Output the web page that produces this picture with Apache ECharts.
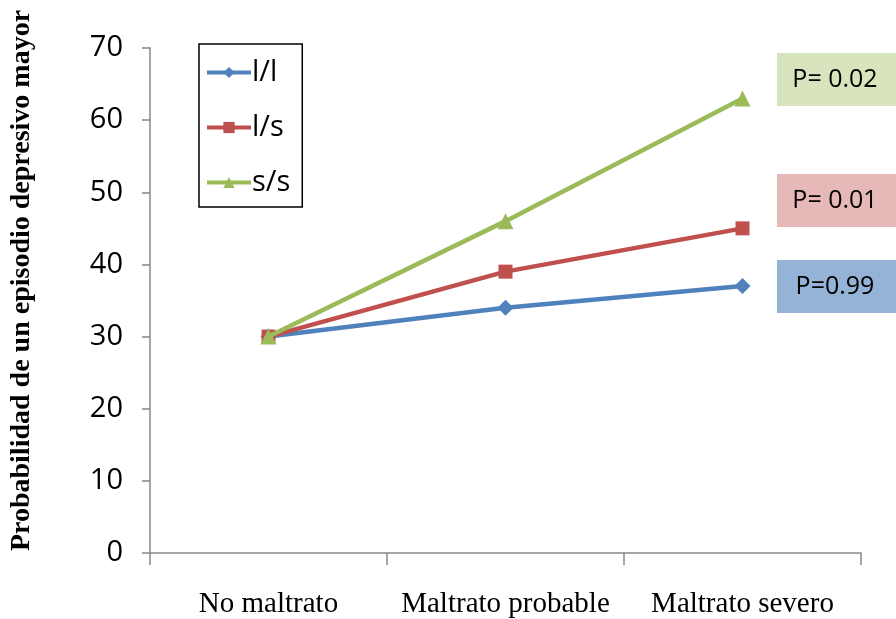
<!DOCTYPE html>
<html><head><meta charset="utf-8">
<script src="https://cdn.jsdelivr.net/npm/echarts@6/dist/echarts.min.js"></script>
<style>html,body{margin:0;padding:0;background:#fff}#c{width:896px;height:619px}</style>
</head><body><div id="c"></div>
<script>
const categories = ['No maltrato', 'Maltrato probable', 'Maltrato severo'];
const seriesNames = ['l/l', 'l/s', 's/s'];
const ll = [30, 34, 37];
const ls = [30, 39, 45];
const ss = [30, 46, 63];
const pLabels = ['P=0.99', 'P= 0.01', 'P= 0.02'];
const yTicks = [0, 10, 20, 30, 40, 50, 60, 70];

const colors = ['#4F81BD', '#C0504D', '#9BBB59'];
const boxFills = ['#95B3D7', '#E6B9B8', '#D7E4BD'];
const symbols = ['diamond', 'rect', 'triangle'];
const data = [ll, ls, ss];

const chart = echarts.init(document.getElementById('c'));
const boxTops = [260, 174, 53];
chart.setOption({
  animation: false,
  grid: {left: 150, right: 35, top: 48, bottom: 66, outerBoundsMode: 'none', containLabel: false},
  legend: {
    orient: 'vertical', left: 199, top: 44,
    data: seriesNames,
    itemWidth: 44, itemHeight: 14, itemGap: 26,
    padding: [14, 12, 10, 6],
    borderColor: '#000', borderWidth: 1.5,
    lineStyle: {width: 4},
    textStyle: {fontFamily: 'Open Sans', fontSize: 29, color: '#000', padding: [0,0,0,-4]}
  },
  xAxis: {
    type: 'category', data: categories, boundaryGap: true,
    axisLine: {lineStyle: {color: '#888', width: 1.5}},
    axisTick: {show: true, length: 12, interval: 0, lineStyle: {color: '#888', width: 1.5}},
    axisLabel: {fontFamily: 'Liberation Serif', fontSize: 29, color: '#000', margin: 37, interval: 0}
  },
  yAxis: {
    type: 'value', min: 0, max: 70, interval: 10,
    name: 'Probabilidad de un episodio depresivo mayor',
    nameLocation: 'middle', nameGap: 114,
    nameTextStyle: {fontFamily: 'Liberation Serif', fontWeight: 'bold', fontSize: 28, color: '#000', padding: [0,0,0,40]},
    axisLine: {show: true, lineStyle: {color: '#888', width: 1.5}},
    axisTick: {show: true, length: 8, lineStyle: {color: '#888', width: 1.5}},
    splitLine: {show: false},
    axisLabel: {fontFamily: 'Open Sans', fontSize: 29, color: '#000', margin: 27,
      formatter: v => yTicks.includes(v) ? String(v) : ''}
  },
  series: seriesNames.map((n, i) => ({
    name: n, type: 'line', data: data[i],
    symbol: symbols[i], symbolSize: i === 1 ? 14 : 16,
    lineStyle: {color: colors[i], width: 4.5},
    itemStyle: {color: colors[i]},
    z: 2 + i
  })),
  graphic: pLabels.map((t, i) => ({
    type: 'group', left: 777, top: boxTops[i],
    children: [
      {type: 'rect', shape: {x: 0, y: 0, width: 119, height: 53}, style: {fill: boxFills[i]}},
      {type: 'text', x: 58, y: 27, style: {text: t, fontFamily: 'Open Sans', fontSize: 25, fill: '#000', align: 'center', verticalAlign: 'middle'}}
    ]
  }))
});
</script></body></html>
